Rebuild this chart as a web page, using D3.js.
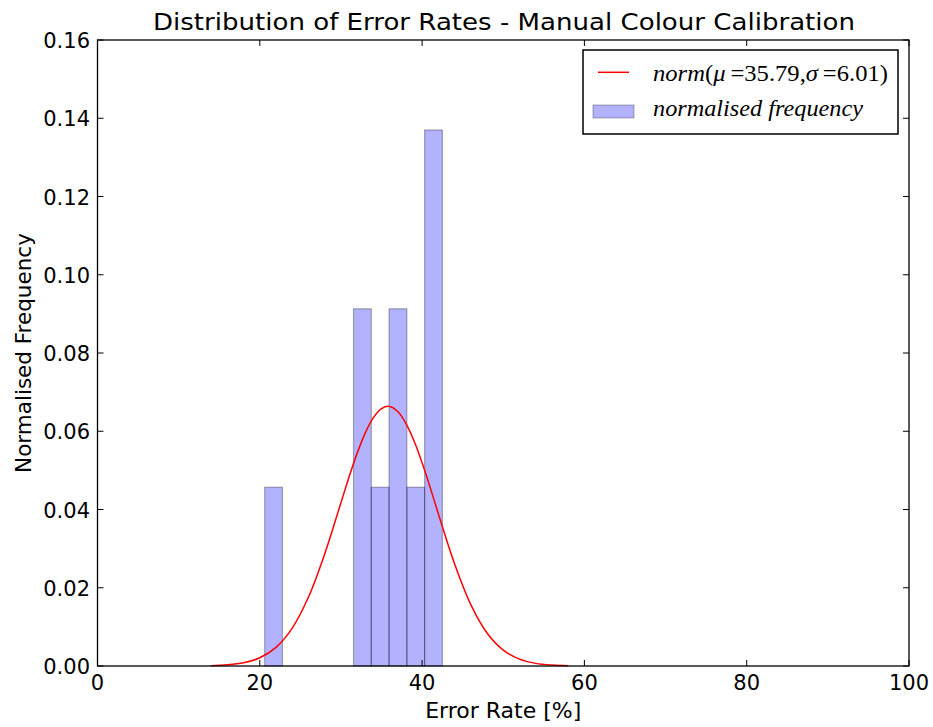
<!DOCTYPE html>
<html>
<head>
<meta charset="utf-8">
<script src="https://cdn.jsdelivr.net/npm/d3@7"></script>
<style>
  body { margin: 0; background: #fff; }
  svg { display: block; }
</style>
</head>
<body>
<div id="chart"></div>
<script>
// histogram bins (left edges), bin width and normalised frequency
const binStarts = [20.6, 22.79, 24.98, 27.17, 29.36, 31.55, 33.74, 35.93, 38.12, 40.31];
const binWidth = 2.19;
const frequency = [0.0457, 0, 0, 0, 0, 0.0913, 0.0457, 0.0913, 0.0457, 0.137];

// fitted normal curve, sampled points
const curveX = [14, 16, 18, 20, 22, 24, 26, 28, 30, 31, 32, 33, 34, 35, 36, 37, 38, 39, 40, 41, 42, 44, 46, 48, 50, 52, 54, 56, 58];
const curveY = [0.00009, 0.00029, 0.00083, 0.0021, 0.00477, 0.00969, 0.01762, 0.02866, 0.04173, 0.04832, 0.05441, 0.0596,
                0.0635, 0.06581, 0.06634, 0.06505, 0.06204, 0.05756, 0.05194, 0.04559, 0.03892, 0.02611, 0.01568, 0.00843,
                0.00406, 0.00175, 0.00067, 0.00023, 0.00007];

const xTicks = [0, 20, 40, 60, 80, 100];
const yTicks = [0, 0.02, 0.04, 0.06, 0.08, 0.10, 0.12, 0.14, 0.16];

const width = 933, height = 727;
const margin = {top: 40, right: 24, bottom: 61, left: 97.5};

const svg = d3.select("#chart").append("svg")
  .attr("width", width)
  .attr("height", height);

const x = d3.scaleLinear().domain([0, 100]).range([margin.left, width - margin.right]);
const y = d3.scaleLinear().domain([0, 0.16]).range([height - margin.bottom, margin.top]);

const font = "'DejaVu Sans', sans-serif";

// bars
svg.append("g").selectAll("rect")
  .data(binStarts.map((s, i) => ({s: s, f: frequency[i]})).filter(d => d.f > 0))
  .enter().append("rect")
    .attr("x", d => x(d.s))
    .attr("y", d => y(d.f))
    .attr("width", d => x(d.s + binWidth) - x(d.s))
    .attr("height", d => y(0) - y(d.f))
    .attr("fill", "#0000ff")
    .attr("fill-opacity", 0.3)
    .attr("stroke", "#000")
    .attr("stroke-opacity", 0.3)
    .attr("stroke-width", 1.2);

// normal curve
const line = d3.line()
  .x(d => x(d[0]))
  .y(d => y(d[1]))
  .curve(d3.curveCatmullRom);

svg.append("path")
  .datum(curveX.map((v, i) => [v, curveY[i]]))
  .attr("d", line)
  .attr("fill", "none")
  .attr("stroke", "#ff0000")
  .attr("stroke-width", 1.5);

// ticks inside on all four sides
const x0 = x(0), x1 = x(100), y0 = y(0), y1 = y(0.16);
const tickLen = 6;
const ticks = svg.append("g").attr("stroke", "#000").attr("stroke-width", 1);
xTicks.forEach(t => {
  ticks.append("line").attr("x1", x(t)).attr("x2", x(t)).attr("y1", y0).attr("y2", y0 - tickLen);
  ticks.append("line").attr("x1", x(t)).attr("x2", x(t)).attr("y1", y1).attr("y2", y1 + tickLen);
});
yTicks.forEach(t => {
  ticks.append("line").attr("x1", x0).attr("x2", x0 + tickLen).attr("y1", y(t)).attr("y2", y(t));
  ticks.append("line").attr("x1", x1).attr("x2", x1 - tickLen).attr("y1", y(t)).attr("y2", y(t));
});

// frame
svg.append("rect")
  .attr("x", x0).attr("y", y1)
  .attr("width", x1 - x0).attr("height", y0 - y1)
  .attr("fill", "none")
  .attr("stroke", "#000")
  .attr("stroke-width", 1.3);

// tick labels
svg.append("g").selectAll("text")
  .data(xTicks).enter().append("text")
    .attr("x", d => x(d))
    .attr("y", y0 + 24)
    .attr("text-anchor", "middle")
    .style("font-family", font)
    .style("font-size", "21px")
    .text(d => d);

svg.append("g").selectAll("text")
  .data(yTicks).enter().append("text")
    .attr("x", x0 - 7.5)
    .attr("y", d => y(d) + 8)
    .attr("text-anchor", "end")
    .style("font-family", font)
    .style("font-size", "21px")
    .text(d => d.toFixed(2));

// title and axis labels
svg.append("text")
  .attr("x", 504)
  .attr("y", 29.5)
  .attr("text-anchor", "middle")
  .attr("textLength", 702)
  .attr("lengthAdjust", "spacingAndGlyphs")
  .style("font-family", font)
  .style("font-size", "22.5px")
  .text("Distribution of Error Rates - Manual Colour Calibration");

svg.append("text")
  .attr("x", (x0 + x1) / 2)
  .attr("y", 717.5)
  .attr("text-anchor", "middle")
  .style("font-family", font)
  .style("font-size", "22px")
  .text("Error Rate [%]");

svg.append("text")
  .attr("transform", `translate(31, ${(y0 + y1) / 2}) rotate(-90)`)
  .attr("text-anchor", "middle")
  .style("font-family", font)
  .style("font-size", "21.5px")
  .text("Normalised Frequency");

// legend
const lg = svg.append("g").attr("transform", "translate(583, 50)");
lg.append("rect")
  .attr("width", 315).attr("height", 84)
  .attr("fill", "#fff")
  .attr("stroke", "#000")
  .attr("stroke-width", 1.5);
lg.append("line")
  .attr("x1", 15).attr("x2", 46).attr("y1", 22.3).attr("y2", 22.3)
  .attr("stroke", "#ff0000").attr("stroke-width", 1.5);
lg.append("rect")
  .attr("x", 10).attr("y", 55).attr("width", 41).attr("height", 13)
  .attr("fill", "#0000ff").attr("fill-opacity", 0.3)
  .attr("stroke", "#000").attr("stroke-opacity", 0.3);

const serif = "'Liberation Serif', 'DejaVu Serif', serif";
const t1 = lg.append("text")
  .attr("x", 70).attr("y", 31)
  .attr("textLength", 235)
  .attr("lengthAdjust", "spacingAndGlyphs")
  .style("font-family", serif)
  .style("font-size", "23px");
t1.append("tspan").style("font-style", "italic").text("norm");
t1.append("tspan").text("(");
t1.append("tspan").style("font-style", "italic").text("μ");
t1.append("tspan").text("\u2009=35.79,");
t1.append("tspan").style("font-style", "italic").text("σ");
t1.append("tspan").text("\u2009=6.01)");

lg.append("text")
  .attr("x", 70).attr("y", 66)
  .attr("textLength", 210)
  .attr("lengthAdjust", "spacingAndGlyphs")
  .style("font-family", serif)
  .style("font-size", "23px")
  .style("font-style", "italic")
  .text("normalised frequency");
</script>
</body>
</html>
